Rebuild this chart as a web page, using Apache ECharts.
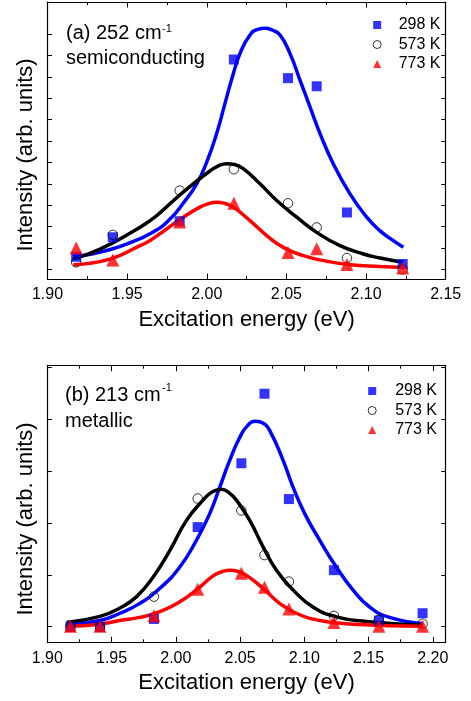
<!DOCTYPE html>
<html>
<head>
<meta charset="utf-8">
<script src="https://cdn.jsdelivr.net/npm/echarts@6/dist/echarts.min.js"></script>
<style>
html,body{margin:0;padding:0;background:#fff;}
#chart{width:471px;height:701px;}
</style>
</head>
<body>
<div id="chart"></div>
<script>
// ---------- Data (panel a: 252 cm-1 semiconducting) ----------
const energiesA = [1.918, 1.941, 1.983, 2.017, 2.051, 2.069, 2.088, 2.123];
const a298 = [0.59, 1.50, 2.25, 9.81, 8.94, 8.56, 2.66, 0.25];
const a573 = [0.33, 1.61, 3.68, 4.68, 3.09, 1.96, 0.53, 0.00];
const a773 = [1.00, 0.44, 2.22, 3.09, 0.79, 0.96, 0.23, 0.06];

const fitA298X = [1.916, 1.928, 1.937, 1.950, 1.9664, 1.9769, 1.9853, 1.9937, 1.9999, 2.0062, 2.0114, 2.0167, 2.0209, 2.0271, 2.0320, 2.0366, 2.0413, 2.046, 2.0522, 2.0585, 2.0648, 2.0711, 2.0794, 2.0899, 2.1004, 2.1088, 2.1160, 2.1234];
const fitA298Y = [0.60, 0.72, 0.88, 1.19, 1.75, 2.35, 3.10, 4.00, 5.00, 6.35, 7.75, 9.16, 10.10, 10.96, 11.22, 11.27, 11.18, 10.96, 10.10, 8.85, 7.60, 6.35, 4.94, 3.53, 2.44, 1.80, 1.40, 1.03];
const fitA573X = [1.9162, 1.933, 1.9539, 1.9644, 1.9706, 1.9811, 1.9915, 2.002, 2.007, 2.0125, 2.0175, 2.0229, 2.0334, 2.0439, 2.0565, 2.069, 2.0836, 2.0983, 2.1088, 2.1234];
const fitA573Y = [0.48, 0.95, 1.78, 2.28, 2.64, 3.35, 4.00, 4.60, 4.83, 4.94, 4.90, 4.71, 4.00, 3.22, 2.44, 1.73, 1.11, 0.72, 0.53, 0.33];
const fitA773X = [1.9162, 1.9392, 1.9581, 1.9644, 1.9748, 1.9853, 1.9957, 2.0010, 2.0062, 2.0115, 2.0167, 2.0271, 2.0376, 2.048, 2.0606, 2.0753, 2.0899, 2.1088, 2.1234];
const fitA773Y = [0.22, 0.48, 1.11, 1.35, 1.89, 2.44, 2.91, 3.07, 3.14, 3.08, 2.91, 2.28, 1.58, 1.03, 0.64, 0.38, 0.22, 0.14, 0.09];

// ---------- Data (panel b: 213 cm-1 metallic) ----------
const energiesB = [1.918, 1.941, 1.983, 2.017, 2.051, 2.069, 2.088, 2.123, 2.158, 2.192];
const b298 = [0.00, 0.00, 0.15, 1.92, 3.15, 4.49, 2.46, 1.09, 0.12, 0.26];
const b573 = [0.00, 0.00, 0.58, 2.47, 2.24, 1.38, 0.87, 0.21, 0.13, 0.06];
const b773 = [0.01, 0.01, 0.21, 0.72, 1.03, 0.76, 0.34, 0.08, 0.01, 0.01];

const fitB298X = [1.915, 1.941, 1.9565, 1.972, 1.9876, 2.0031, 2.0161, 2.0264, 2.0342, 2.042, 2.0498, 2.0560, 2.0622, 2.0680, 2.0731, 2.0834, 2.0912, 2.1003, 2.1119, 2.1249, 2.1378, 2.1508, 2.1663, 2.1922];
const fitB298Y = [0.03, 0.12, 0.26, 0.45, 0.74, 1.15, 1.67, 2.18, 2.69, 3.21, 3.65, 3.88, 3.96, 3.92, 3.78, 3.21, 2.69, 2.18, 1.67, 1.15, 0.71, 0.38, 0.18, 0.06];
const fitB573X = [1.915, 1.941, 1.9565, 1.9695, 1.9824, 1.9954, 2.0083, 2.0212, 2.0285, 2.0355, 2.0415, 2.0472, 2.0575, 2.0679, 2.0783, 2.0912, 2.1067, 2.1249, 2.1482, 2.1922];
const fitB573Y = [0.08, 0.20, 0.36, 0.58, 0.96, 1.47, 2.05, 2.44, 2.60, 2.65, 2.58, 2.44, 2.05, 1.54, 1.09, 0.71, 0.38, 0.19, 0.10, 0.03];
const fitB773X = [1.915, 1.941, 1.9565, 1.972, 1.9876, 2.0031, 2.0161, 2.029, 2.036, 2.042, 2.048, 2.055, 2.0679, 2.0808, 2.0938, 2.1119, 2.1378, 2.1922];
const fitB773Y = [0.01, 0.05, 0.12, 0.18, 0.29, 0.48, 0.71, 0.98, 1.06, 1.09, 1.07, 0.99, 0.74, 0.45, 0.26, 0.12, 0.05, 0.01];

// ---------- Axis ticks ----------
const xMajorA = [1.90, 1.95, 2.00, 2.05, 2.10, 2.15];
const xMinorA = [1.925, 1.975, 2.025, 2.075, 2.125];
const xMajorB = [1.90, 1.95, 2.00, 2.05, 2.10, 2.15, 2.20];
const xMinorB = [1.925, 1.975, 2.025, 2.075, 2.125, 2.175];
const yTicksA = [0, 1, 2, 3, 4, 5, 6, 7, 8, 9, 10, 11];
const yTicksB = [0, 1, 2, 3, 4, 5];

const seriesNames = ['298 K', '573 K', '773 K'];
const xLabel = 'Excitation energy (eV)';
const yLabel = 'Intensity (arb. units)';

// ---------- Build ----------
const FONT = 'Liberation Sans, Arial, Helvetica, sans-serif';
const BLUE = '#0000ff', RED = '#ff0000', BLACK = '#000000';
const zip = (xs, ys) => xs.map((x, i) => [x, ys[i]]);

const chart = echarts.init(document.getElementById('chart'), null, {renderer: 'canvas'});

function xAxisDef(grid, pos, min, max, ticks, len, withLine, labels, name) {
  return {
    type: 'value', gridIndex: grid, position: pos, min: min, max: max,
    axisLine: {show: withLine, onZero: false, lineStyle: {color: BLACK, width: 1.2}},
    axisTick: {show: true, inside: true, length: len, customValues: ticks, lineStyle: {color: BLACK, width: 1}},
    axisLabel: labels ? {show: true, customValues: ticks, margin: 8, color: BLACK, fontFamily: FONT, fontSize: 16,
      formatter: v => Number(v).toFixed(2)} : {show: false},
    splitLine: {show: false},
    name: name || '', nameLocation: 'middle', nameGap: 30,
    nameTextStyle: {fontFamily: FONT, fontSize: 22, color: BLACK}
  };
}
function yAxisDef(grid, pos, min, max, ticks) {
  return {
    type: 'value', gridIndex: grid, position: pos, min: min, max: max,
    axisLine: {show: true, onZero: false, lineStyle: {color: BLACK, width: 1.2}},
    axisTick: {show: true, inside: true, length: 4.5, customValues: ticks, lineStyle: {color: BLACK, width: 1}},
    axisLabel: {show: false},
    splitLine: {show: false}
  };
}

const yMinA = -0.45, yMaxA = 12.5;
const yMinB = -0.30, yMaxB = 5.03;

function lineSeries(xi, yi, data, color) {
  return {type: 'line', xAxisIndex: xi, yAxisIndex: yi, data: data, showSymbol: false, symbol: 'none',
    smooth: 0.5, lineStyle: {color: color, width: 3.5}, z: 2, silent: true};
}
function scatterSet(xi, yi, xs, s298, s573, s773, sq, ci, tr) {
  return [
    {name: seriesNames[0], type: 'scatter', xAxisIndex: xi, yAxisIndex: yi, data: zip(xs, s298),
      symbol: 'rect', symbolSize: sq, itemStyle: {color: BLUE}, z: 3},
    {name: seriesNames[1], type: 'scatter', xAxisIndex: xi, yAxisIndex: yi, data: zip(xs, s573),
      symbol: 'circle', symbolSize: ci, itemStyle: {color: 'rgba(255,255,255,0)', borderColor: BLACK, borderWidth: 1}, z: 4},
    {name: seriesNames[2], type: 'scatter', xAxisIndex: xi, yAxisIndex: yi, data: zip(xs, s773),
      symbol: 'triangle', symbolSize: tr, itemStyle: {color: RED}, z: 5}
  ];
}

function legendDef(left, top, gap) {
  return {
    orient: 'vertical', left: left, top: top, padding: 0, itemGap: 3.5,
    itemWidth: 8, itemHeight: 8,
    formatter: name => '{g|}' + name,
    textStyle: {fontFamily: FONT, fontSize: 16, color: BLACK, lineHeight: 16,
      rich: {g: {width: gap, fontSize: 16, lineHeight: 16}}},
    selectedMode: false,
    data: [
      {name: seriesNames[0], icon: 'rect', itemStyle: {color: BLUE}},
      {name: seriesNames[1], icon: 'circle', itemStyle: {color: 'rgba(255,255,255,0)', borderColor: BLACK, borderWidth: 1}},
      {name: seriesNames[2], icon: 'triangle', itemStyle: {color: RED}}
    ]
  };
}

const option = {
  animation: false,
  backgroundColor: '#ffffff',
  grid: [
    {left: 47.5, top: 2, width: 398.2, height: 277, containLabel: false},
    {left: 47.3, top: 365.7, width: 398.4, height: 276.6, containLabel: false}
  ],
  xAxis: [
    xAxisDef(0, 'bottom', 1.90, 2.15, xMajorA, 5.5, true, true, xLabel),
    xAxisDef(0, 'bottom', 1.90, 2.15, xMinorA, 3, false, false),
    xAxisDef(0, 'top', 1.90, 2.15, xMajorA, 5.5, true, false),
    xAxisDef(0, 'top', 1.90, 2.15, xMinorA, 3, false, false),
    xAxisDef(1, 'bottom', 1.90, 2.21, xMajorB, 5.5, true, true, xLabel),
    xAxisDef(1, 'bottom', 1.90, 2.21, xMinorB, 3, false, false),
    xAxisDef(1, 'top', 1.90, 2.21, xMajorB, 5.5, true, false),
    xAxisDef(1, 'top', 1.90, 2.21, xMinorB, 3, false, false)
  ],
  yAxis: [
    yAxisDef(0, 'left', yMinA, yMaxA, yTicksA),
    yAxisDef(0, 'right', yMinA, yMaxA, yTicksA),
    yAxisDef(1, 'left', yMinB, yMaxB, yTicksB),
    yAxisDef(1, 'right', yMinB, yMaxB, yTicksB)
  ],
  legend: [legendDef(372.7, 17, 12.5), legendDef(367.7, 383, 14)],
  series: [
    lineSeries(0, 0, zip(fitA298X, fitA298Y), BLUE),
    lineSeries(0, 0, zip(fitA573X, fitA573Y), BLACK),
    lineSeries(0, 0, zip(fitA773X, fitA773Y), RED),
    ...scatterSet(0, 0, energiesA, a298, a573, a773, 10, 9.5, 13),
    lineSeries(4, 2, zip(fitB298X, fitB298Y), BLUE),
    lineSeries(4, 2, zip(fitB573X, fitB573Y), BLACK),
    lineSeries(4, 2, zip(fitB773X, fitB773Y), RED),
    ...scatterSet(4, 2, energiesB, b298, b573, b773, 10, 9.5, 13)
  ],
  graphic: [
    {type: 'text', x: 66, y: 33, style: {text: '(a) 252 cm', font: '20px ' + FONT, fill: BLACK, verticalAlign: 'middle'}},
    {type: 'text', x: 162, y: 29, style: {text: '-1', font: '11px ' + FONT, fill: BLACK, verticalAlign: 'middle'}},
    {type: 'text', x: 66, y: 58.5, style: {text: 'semiconducting', font: '20px ' + FONT, fill: BLACK, verticalAlign: 'middle'}},
    {type: 'text', x: 65, y: 395, style: {text: '(b) 213 cm', font: '20px ' + FONT, fill: BLACK, verticalAlign: 'middle'}},
    {type: 'text', x: 162, y: 388, style: {text: '-1', font: '11px ' + FONT, fill: BLACK, verticalAlign: 'middle'}},
    {type: 'text', x: 65, y: 421, style: {text: 'metallic', font: '20px ' + FONT, fill: BLACK, verticalAlign: 'middle'}},
    {type: 'text', x: 25.8, y: 155, rotation: Math.PI / 2,
      style: {text: yLabel, font: '22px ' + FONT, fill: BLACK, align: 'center', verticalAlign: 'middle'}},
    {type: 'text', x: 25.8, y: 519, rotation: Math.PI / 2,
      style: {text: yLabel, font: '22px ' + FONT, fill: BLACK, align: 'center', verticalAlign: 'middle'}}
  ]
};
chart.setOption(option);
</script>
</body>
</html>
